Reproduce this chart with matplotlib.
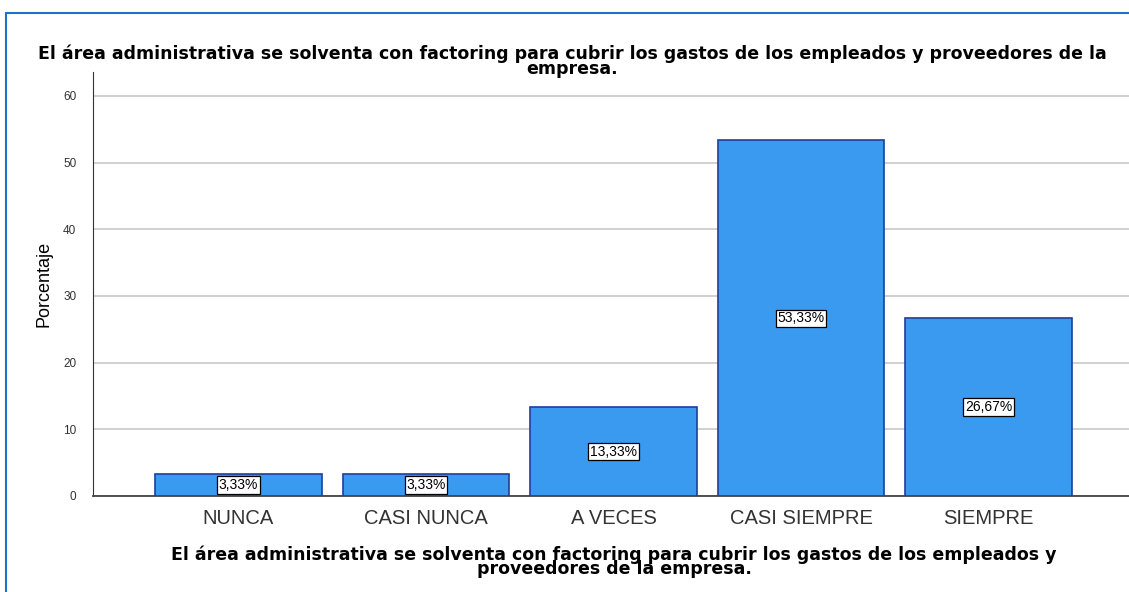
import matplotlib.pyplot as plt
from matplotlib.patches import Rectangle

categorias = ["NUNCA", "CASI NUNCA", "A VECES", "CASI SIEMPRE", "SIEMPRE"]
porcentajes = [3.33, 3.33, 13.33, 53.33, 26.67]
etiquetas = ["3,33%", "3,33%", "13,33%", "53,33%", "26,67%"]
titulo = "El área administrativa se solventa con factoring para cubrir los gastos de los empleados y proveedores de la\nempresa."
xtitulo = "El área administrativa se solventa con factoring para cubrir los gastos de los empleados y\nproveedores de la empresa."

plt.rcParams['font.family'] = ['Liberation Sans', 'DejaVu Sans']

fig = plt.figure(figsize=(11.29, 5.92), dpi=100)
# marco azul alrededor del grafico
fig.patches.append(Rectangle((6 / 1129, -0.1), 1.2, (592 - 13) / 592 + 0.1,
                             transform=fig.transFigure, fill=False,
                             edgecolor="#1a72c9", linewidth=1.5))

ax = fig.add_axes([93 / 1129, 96 / 592, 1.0, 424 / 592])
x = range(len(categorias))
ax.bar(x, porcentajes, 0.89, color="#3a9af0", edgecolor="#1c3f9a", linewidth=1.2, zorder=3)
for i, (v, t) in enumerate(zip(porcentajes, etiquetas)):
    ax.text(i, v / 2, t, ha="center", va="center", fontsize=10, zorder=4,
            bbox=dict(boxstyle="square,pad=0.12", facecolor="white", edgecolor="black", linewidth=0.9))

ax.set_xlim(-0.776, -0.776 + 1129 / 187.5)
ax.set_ylim(0, 63.6)
ax.set_yticks([0, 10, 20, 30, 40, 50, 60])
ax.set_xticks(list(x))
ax.set_xticklabels(categorias, fontsize=14.5, color="#333333")
ax.tick_params(axis="y", labelsize=8.5, length=0, pad=12, labelcolor="#333333")
ax.tick_params(axis="x", length=0, pad=9)
ax.yaxis.grid(True, color="#c8c8c8", linewidth=1.2, zorder=0)
ax.set_axisbelow(True)
for s in ["top", "right"]:
    ax.spines[s].set_visible(False)
ax.spines["left"].set_color("#333333")
ax.spines["bottom"].set_color("#444444")
ax.spines["bottom"].set_linewidth(1.3)

ax.set_ylabel("Porcentaje", fontsize=13)
ax.yaxis.set_label_coords(-(93 - 44) / 1129, 0.5)
ax.yaxis.label.set_va("center")
ax.set_xlabel(xtitulo, fontsize=12.5, fontweight="bold", family="DejaVu Sans",
              linespacing=0.75)
ax.xaxis.set_label_coords((614 - 93) / 1129, -(562 - 496) / 424)
ax.xaxis.label.set_va("center")

fig.text(572 / 1129, 1 - 61 / 592, titulo, ha="center", va="center", fontsize=12.5,
         fontweight="bold", family="DejaVu Sans", linespacing=0.75)

fig.savefig("out.png", dpi=100)
